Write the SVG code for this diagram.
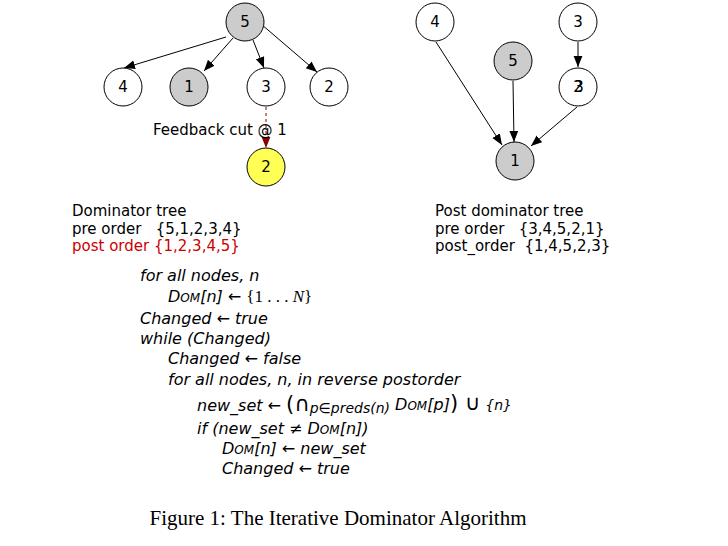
<svg xmlns="http://www.w3.org/2000/svg" width="728" height="546" viewBox="0 0 728 546">
<style>
text{white-space:pre}
.n{fill:#fff;stroke:#000;stroke-width:1}
.g{fill:#cccccc}
.y{fill:#ffff55}
.t{font-family:"DejaVu Sans",sans-serif;font-size:15px;text-anchor:middle;dominant-baseline:central}
.e{stroke:#000;stroke-width:1;fill:none;marker-end:url(#a)}
.l{font-family:"DejaVu Sans",sans-serif;font-size:15px}
.al{font-family:"DejaVu Sans",sans-serif;font-size:16px;font-style:italic}
</style>
<defs>
<marker id="a" viewBox="0 0 10 10" refX="10" refY="5" markerWidth="11" markerHeight="11" markerUnits="userSpaceOnUse" orient="auto"><path d="M0,1 L10,5 L0,9 z" fill="#000"/></marker>
<marker id="r" viewBox="0 0 10 10" refX="10" refY="5" markerWidth="11" markerHeight="11" markerUnits="userSpaceOnUse" orient="auto"><path d="M0,1 L10,5 L0,9 z" fill="#8b0000"/></marker>
</defs>
<g id="edges">
<line class="e" x1="226" y1="37" x2="124" y2="68"/>
<line class="e" x1="233" y1="38" x2="204" y2="71"/>
<line class="e" x1="253" y1="40" x2="264" y2="68"/>
<line class="e" x1="261" y1="24" x2="317" y2="72"/>
<line x1="266" y1="107" x2="266" y2="148" stroke="#8b0000" stroke-dasharray="3,3" marker-end="url(#r)"/>
<line class="e" x1="436" y1="42" x2="502" y2="145"/>
<line class="e" x1="513" y1="81" x2="514" y2="142"/>
<line class="e" x1="578" y1="42" x2="578" y2="67"/>
<line class="e" x1="577" y1="107" x2="531" y2="146"/>
</g>
<g id="n5"><circle class="n g" cx="245" cy="22" r="19"/><text class="t" x="245" y="22">5</text></g>
<g id="n4"><circle class="n" cx="123" cy="87" r="19"/><text class="t" x="123" y="87">4</text></g>
<g id="n1"><circle class="n g" cx="189" cy="87" r="19"/><text class="t" x="189" y="87">1</text></g>
<g id="n3"><circle class="n" cx="266" cy="87" r="19"/><text class="t" x="266" y="87">3</text></g>
<g id="n2"><circle class="n" cx="329" cy="87" r="19"/><text class="t" x="329" y="87">2</text></g>
<g id="n2y"><circle class="n y" cx="266" cy="167" r="19"/><text class="t" x="266" y="167">2</text></g>
<text class="l" x="153" y="135">Feedback cut @ 1</text>
<g id="r4"><circle class="n" cx="435" cy="22" r="19"/><text class="t" x="435" y="22">4</text></g>
<g id="r3"><circle class="n" cx="578" cy="22" r="19"/><text class="t" x="578" y="22">3</text></g>
<g id="r5"><circle class="n g" cx="513" cy="61" r="19"/><text class="t" x="513" y="61">5</text></g>
<g id="r23"><circle class="n" cx="578" cy="87" r="19"/><text class="t" x="578" y="87">2</text><text class="t" x="579" y="87">3</text></g>
<g id="r1"><circle class="n g" cx="515" cy="161" r="19"/><text class="t" x="515" y="161">1</text></g>
<text class="l" x="72" y="216">Dominator tree</text>
<text class="l" x="72" y="234">pre order   {5,1,2,3,4}</text>
<text class="l" x="72" y="251" fill="#cc0000">post order {1,2,3,4,5}</text>
<text class="l" x="435" y="216">Post dominator tree</text>
<text class="l" x="435" y="234">pre order   {3,4,5,2,1}</text>
<text class="l" x="435" y="251">post_order  {1,4,5,2,3}</text>
<g class="al">
<text x="140" y="281">for all nodes, n</text>
<text x="168" y="302">D<tspan font-size="12">OM</tspan>[n] ← <tspan font-family="Liberation Serif" font-style="normal" font-size="17">{1 . . . <tspan font-style="italic">N</tspan>}</tspan></text>
<text x="140" y="324">Changed ← true</text>
<text x="140" y="344">while (Changed)</text>
<text x="168" y="364">Changed ← false</text>
<text x="168" y="385">for all nodes, n, in reverse postorder</text>
<text x="197" y="411">new_set ← <tspan font-style="normal" font-size="21">(∩</tspan><tspan font-size="14" dy="2">p∈preds(n)</tspan><tspan dy="-3"> D<tspan font-size="12">OM</tspan>[p]</tspan><tspan font-style="normal" font-size="21">) ∪</tspan> <tspan font-size="14">{n}</tspan></text>
<text x="197" y="434">if (new_set ≠ D<tspan font-size="12">OM</tspan>[n])</text>
<text x="222" y="454">D<tspan font-size="12">OM</tspan>[n] ← new_set</text>
<text x="222" y="474">Changed ← true</text>
</g>
<text x="338" y="525" font-family="Liberation Serif,serif" font-size="21" text-anchor="middle">Figure 1: The Iterative Dominator Algorithm</text>
</svg>
